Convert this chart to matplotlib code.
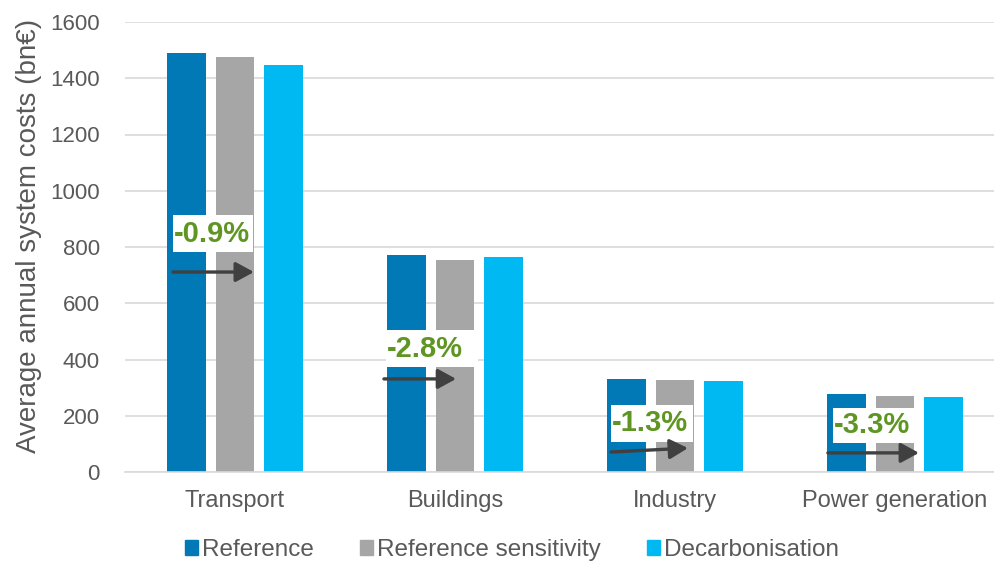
import matplotlib
matplotlib.use('Agg')
import matplotlib.pyplot as plt
from matplotlib.patches import Rectangle, Patch
import numpy as np

plt.rcParams['font.family'] = ['Liberation Sans', 'DejaVu Sans']

# data
categories = ['Transport', 'Buildings', 'Industry', 'Power generation']
reference = [1490, 772, 331, 277]
reference_sensitivity = [1476, 754, 327, 270]
decarbonisation = [1447, 764, 324, 267]
series_names = ['Reference', 'Reference sensitivity', 'Decarbonisation']
change_labels = ['-0.9%', '-2.8%', '-1.3%', '-3.3%']

# annotation layout (offsets from the group centre, values in bn€)
box_x0 = [-0.282, -0.314, -0.291, -0.282]
box_x1 = [0.082, 0.105, 0.082, 0.132]
box_y0 = [782, 373, 107, 103]
box_y1 = [914, 505, 238, 228]
arrow_x0 = [-0.282, -0.323, -0.291, -0.305]
arrow_x1 = [0.086, 0.005, 0.059, 0.109]
arrow_y0 = [711, 331, 71, 68]
arrow_y1 = [711, 331, 85, 68]

colors = ['#0079B6', '#A6A6A6', '#00B9F2']
text_col = '#595959'
green = '#5F9623'

fig = plt.figure(figsize=(9.94, 5.63), dpi=100)
ax = fig.add_axes([125 / 994, 91 / 563, 869 / 994, 450 / 563])

x = np.arange(len(categories))
w = 0.177
step = 0.22
for i, (vals, c) in enumerate(zip([reference, reference_sensitivity, decarbonisation], colors)):
    ax.bar(x + (i - 1) * step, vals, width=w, color=c, zorder=2)

for i in range(len(categories)):
    ax.add_patch(Rectangle((x[i] + box_x0[i], box_y0[i]), box_x1[i] - box_x0[i],
                           box_y1[i] - box_y0[i], facecolor='white', edgecolor='none', zorder=3))
    ax.text(x[i] + box_x0[i] + 0.004, (box_y0[i] + box_y1[i]) / 2, change_labels[i],
            ha='left', va='center', fontsize=21, fontweight='bold', color=green, zorder=4)
    ax.annotate('', xy=(x[i] + arrow_x1[i], arrow_y1[i]), xytext=(x[i] + arrow_x0[i], arrow_y0[i]),
                arrowprops=dict(arrowstyle='-|>,head_length=0.55,head_width=0.3', lw=2.4,
                                color='#404040', mutation_scale=20, shrinkA=0, shrinkB=0),
                zorder=5)

ax.set_xlim(-0.5, 3.45)
ax.set_ylim(0, 1600)
ax.set_yticks(np.arange(0, 1601, 200))
ax.set_xticks(x)
ax.set_xticklabels(categories)
ax.yaxis.grid(True, color='#D9D9D9', lw=1.2, zorder=0)
ax.set_axisbelow(True)
for s in ['top', 'right', 'left']:
    ax.spines[s].set_visible(False)
ax.spines['bottom'].set_color('#D9D9D9')
ax.spines['bottom'].set_linewidth(1.2)
ax.tick_params(axis='y', length=0, pad=18, labelsize=16, labelcolor=text_col)
ax.tick_params(axis='x', length=0, pad=13, labelsize=17, labelcolor=text_col)
ax.set_ylabel('Average annual system costs (bn€)', fontsize=20, color=text_col)
ax.yaxis.set_label_coords(-0.096, 0.524)

handles = [Patch(color=c) for c in colors]
fig.legend(handles, series_names, loc='center', bbox_to_anchor=(512 / 994, 1 - 550 / 563),
           ncol=3, frameon=False, fontsize=17.5, handlelength=0.55, handleheight=0.55,
           handletextpad=0.15, columnspacing=1.9, labelcolor=text_col)

fig.savefig('out.png', dpi=100)
